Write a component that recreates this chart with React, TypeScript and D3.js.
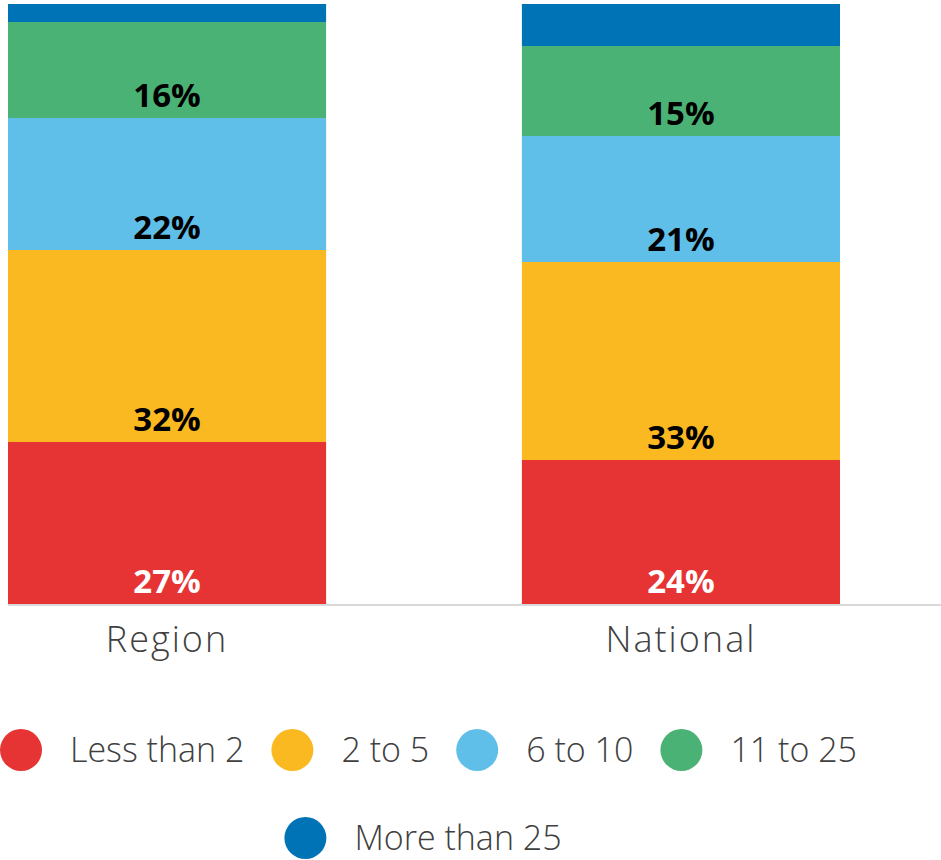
import React, { useEffect, useRef } from "react";
import * as d3 from "d3";

const categories = ["Region", "National"];
const seriesNames = ["Less than 2", "2 to 5", "6 to 10", "11 to 25", "More than 25"];
const regionValues = [27, 32, 22, 16, 3];
const nationalValues = [24, 33, 21, 15, 7];
const colors = ["#E63333", "#FBB921", "#60BFE9", "#4BB276", "#0072B6"];

const FONT = "'Open Sans', 'Noto Sans', sans-serif";

const App = () => {
  const ref = useRef<SVGSVGElement>(null);

  useEffect(() => {
    drawChart();
  }, []);

  const drawChart = () => {
    const width = 941;
    const height = 860;

    const svg = d3.select(ref.current);
    svg.selectAll("*").remove();

    const rows = categories.map((c, i) => {
      const vals = i === 0 ? regionValues : nationalValues;
      const row: any = { category: c };
      seriesNames.forEach((s, j) => (row[s] = vals[j]));
      return row;
    });

    const stacked = d3.stack().keys(seriesNames)(rows);

    const x = d3
      .scaleBand()
      .domain(categories)
      .range([8, 840])
      .paddingInner(0.381)
      .paddingOuter(0);

    const y = d3.scaleLinear().domain([0, 100]).range([604, 4]);

    const layers = svg
      .selectAll("g.layer")
      .data(stacked)
      .join("g")
      .attr("class", "layer")
      .attr("fill", (d, i) => colors[i]);

    layers
      .selectAll("rect")
      .data((d) => d)
      .join("rect")
      .attr("x", (d: any) => x(d.data.category))
      .attr("y", (d) => y(d[1]))
      .attr("width", x.bandwidth())
      .attr("height", (d) => y(d[0]) - y(d[1]));

    // value labels, small segments left unlabelled
    stacked.forEach((layer, i) => {
      layer.forEach((d: any) => {
        const v = d[1] - d[0];
        if (v < 10) return;
        svg
          .append("text")
          .attr("x", x(d.data.category)! + x.bandwidth() / 2)
          .attr("y", y(d[0]) - 11)
          .attr("text-anchor", "middle")
          .attr("font-family", FONT)
          .attr("font-weight", 700)
          .attr("font-size", 33)
          .attr("fill", i === 0 ? "#ffffff" : "#000000")
          .text(`${v}%`);
      });
    });

    // baseline
    svg
      .append("line")
      .attr("x1", 8)
      .attr("x2", width)
      .attr("y1", 605)
      .attr("y2", 605)
      .attr("stroke", "#D9D9D9")
      .attr("stroke-width", 2);

    // category labels
    svg
      .selectAll("text.cat")
      .data(categories)
      .join("text")
      .attr("class", "cat")
      .attr("x", (d) => x(d)! + x.bandwidth() / 2)
      .attr("y", 652)
      .attr("text-anchor", "middle")
      .attr("font-family", FONT)
      .attr("font-weight", 300)
      .attr("font-size", 36)
      .attr("letter-spacing", 2)
      .attr("fill", "#404040")
      .text((d) => d);

    // legend, flowed into centred rows
    const r = 21;
    const textGap = 49;
    const itemGap = 27;
    const maxRow = 890;
    const centerX = 423;
    const rowY = [750, 838];

    const items = seriesNames.map((name, i) => {
      const g = svg.append("g");
      g.append("circle").attr("r", r).attr("fill", colors[i]);
      const t = g
        .append("text")
        .attr("x", textGap)
        .attr("dy", 12)
        .attr("font-family", FONT)
        .attr("font-weight", 300)
        .attr("font-size", 34)
        .attr("fill", "#404040")
        .text(name);
      const w = r + textGap + (t.node() as SVGTextElement).getComputedTextLength();
      return { g, w };
    });

    const lines: { g: any; w: number }[][] = [[]];
    let cur = 0;
    items.forEach((it) => {
      const add = (lines[lines.length - 1].length ? itemGap : 0) + it.w;
      if (cur + add > maxRow && lines[lines.length - 1].length) {
        lines.push([it]);
        cur = it.w;
      } else {
        lines[lines.length - 1].push(it);
        cur += add;
      }
    });

    lines.forEach((line, li) => {
      const total = d3.sum(line, (d) => d.w) + itemGap * (line.length - 1);
      let xPos = Math.max(0, centerX - total / 2);
      line.forEach((it) => {
        it.g.attr("transform", `translate(${xPos + r},${rowY[li] ?? rowY[0] + li * 88})`);
        xPos += it.w + itemGap;
      });
    });

    svg.attr("width", width).attr("height", height);
  };

  return (
    <div>
      <svg
        ref={ref}
        width={941}
        height={860}
        style={{ position: "absolute", left: 0, top: 0 }}
      ></svg>
    </div>
  );
};

export default App;
